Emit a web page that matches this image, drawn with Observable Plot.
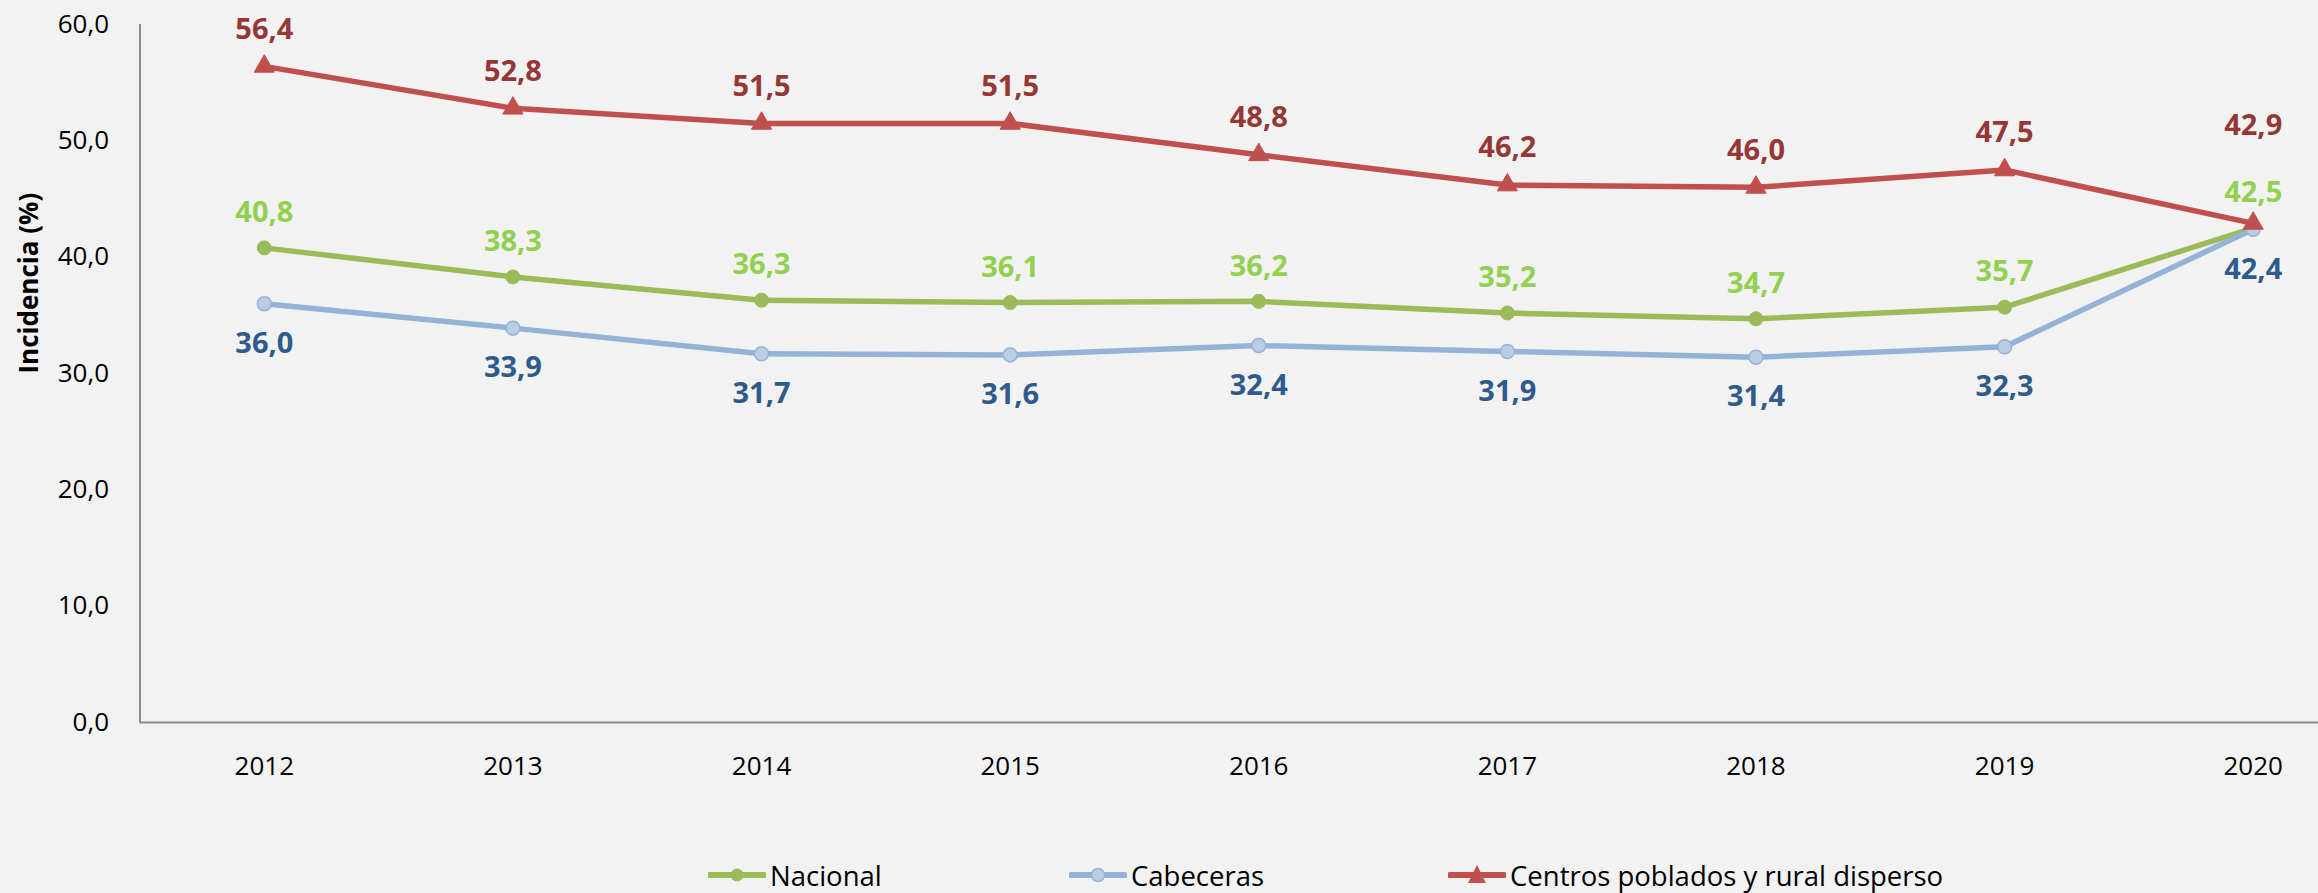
<!DOCTYPE html>
<html>
<head>
<meta charset="utf-8">
<script src="https://cdn.jsdelivr.net/npm/d3@7"></script>
<script src="https://cdn.jsdelivr.net/npm/@observablehq/plot@0.6"></script>
<style>
  html, body { margin: 0; padding: 0; background: #F2F2F2; }
  #chart { width: 2318px; }
  #legend { position: relative; height: 70px; font-family: "Open Sans", sans-serif; font-size: 27.5px; color: #000; }
  .item { position: absolute; top: 0; height: 70px; display: flex; align-items: center; }
  .item svg { margin-right: 4px; }
</style>
</head>
<body>
<div id="chart"></div>
<script>
const years = [2012, 2013, 2014, 2015, 2016, 2017, 2018, 2019, 2020];
const nacional = [40.8, 38.3, 36.3, 36.1, 36.2, 35.2, 34.7, 35.7, 42.5];
const cabeceras = [36.0, 33.9, 31.7, 31.6, 32.4, 31.9, 31.4, 32.3, 42.4];
const centros = [56.4, 52.8, 51.5, 51.5, 48.8, 46.2, 46.0, 47.5, 42.9];
const yTicks = [0, 10, 20, 30, 40, 50, 60];
const seriesNames = ["Nacional", "Cabeceras", "Centros poblados y rural disperso"];
const yTitle = "Incidencia (%)";

const fmt = v => v.toFixed(1).replace(".", ",");
const rows = (vals) => years.map((year, i) => ({year, value: vals[i], last: i === years.length - 1}));
const nac = rows(nacional), cab = rows(cabeceras), cen = rows(centros);

const C = {
  nacLine: "#9BBB59", nacLabel: "#92D050",
  cabLine: "#95B3D7", cabFill: "#B9CDE5", cabLabel: "#2E5A8C",
  cenLine: "#C0504D", cenLabel: "#953735",
  axis: "#898989"
};
const font = "'Open Sans', sans-serif";

const plot = Plot.plot({
  width: 2318,
  height: 840,
  marginLeft: 139.5,
  marginRight: 0,
  marginTop: 24,
  marginBottom: 118,
  style: {background: "#F2F2F2", fontFamily: font, fontSize: "26px", color: "#000", overflow: "visible"},
  x: {type: "linear", domain: [years[0] - 0.5, years[years.length - 1] + 0.5], range: [139.5, 2377]},
  y: {domain: [0, 60]},
  marks: [
    Plot.ruleY([0], {stroke: C.axis, strokeWidth: 2}),
    Plot.ruleX([years[0] - 0.5], {stroke: C.axis, strokeWidth: 2}),
    Plot.axisX({ticks: years, tickFormat: d => String(d), tickSize: 0, tickPadding: 34, fontSize: 26, fill: "#000", label: null}),
    Plot.axisY({ticks: yTicks, tickFormat: fmt, tickSize: 0, tickPadding: 31, fontSize: 26, fill: "#000", label: null}),
    Plot.text([yTitle], {frameAnchor: "left", dx: -110, rotate: -90, fontWeight: "bold", fontSize: 26, fill: "#000"}),
    // Nacional
    Plot.line(nac, {x: "year", y: "value", stroke: C.nacLine, strokeWidth: 5.5, strokeLinejoin: "round", strokeLinecap: "round"}),
    Plot.dot(nac, {x: "year", y: "value", r: 7, fill: C.nacLine, stroke: C.nacLine, strokeWidth: 1}),
    // Cabeceras
    Plot.line(cab, {x: "year", y: "value", stroke: C.cabLine, strokeWidth: 5.5, strokeLinejoin: "round", strokeLinecap: "round"}),
    Plot.dot(cab, {x: "year", y: "value", r: 7, fill: C.cabFill, stroke: C.cabLine, strokeWidth: 1.5}),
    // Centros
    Plot.line(cen, {x: "year", y: "value", stroke: C.cenLine, strokeWidth: 5.5, strokeLinejoin: "round", strokeLinecap: "round"}),
    Plot.dot(cen, {x: "year", y: "value", r: 7.5, symbol: "triangle", fill: C.cenLine, stroke: C.cenLine, strokeWidth: 1}),
    // labels
    Plot.text(nac, {x: "year", y: "value", text: d => fmt(d.value), dy: -35, fill: C.nacLabel, fontWeight: "bold", fontSize: 29}),
    Plot.text(cab, {x: "year", y: "value", text: d => fmt(d.value), dy: 40, fill: C.cabLabel, fontWeight: "bold", fontSize: 29}),
    Plot.text(cen.filter(d => !d.last), {x: "year", y: "value", text: d => fmt(d.value), dy: -37, fill: C.cenLabel, fontWeight: "bold", fontSize: 29}),
    Plot.text(cen.filter(d => d.last), {x: "year", y: "value", text: d => fmt(d.value), dy: -98, fill: C.cenLabel, fontWeight: "bold", fontSize: 29})
  ]
});
document.getElementById("chart").appendChild(plot);

// Legend
const legend = document.createElement("div");
legend.id = "legend";
const lefts = [708, 1069, 1448];
const swatches = [
  `<line x1="2" y1="12" x2="56" y2="12" stroke="${C.nacLine}" stroke-width="6" stroke-linecap="round"/><circle cx="29" cy="12" r="6.5" fill="${C.nacLine}"/>`,
  `<line x1="2" y1="12" x2="56" y2="12" stroke="${C.cabLine}" stroke-width="6" stroke-linecap="round"/><circle cx="29" cy="12" r="6.5" fill="${C.cabFill}" stroke="${C.cabLine}" stroke-width="1.5"/>`,
  `<line x1="2" y1="12" x2="56" y2="12" stroke="${C.cenLine}" stroke-width="6" stroke-linecap="round"/><path d="M29,2 L38,20 L20,20 Z" fill="${C.cenLine}"/>`
];
seriesNames.forEach((name, i) => {
  const it = document.createElement("div");
  it.className = "item";
  it.style.left = lefts[i] + "px";
  it.innerHTML = `<svg width="58" height="24">${swatches[i]}</svg><span>${name}</span>`;
  legend.appendChild(it);
});
document.body.appendChild(legend);
</script>
</body>
</html>
